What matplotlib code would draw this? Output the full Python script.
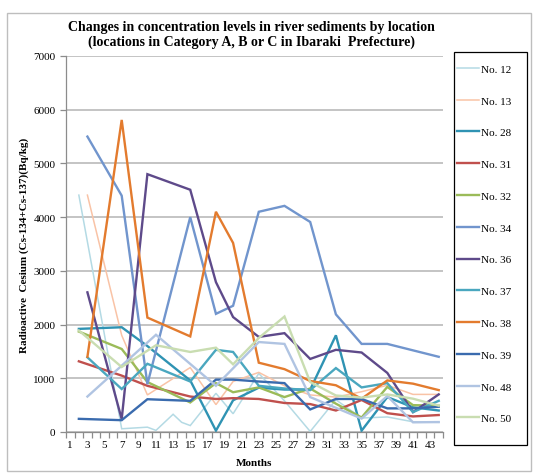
import matplotlib
matplotlib.use("Agg")
import matplotlib.pyplot as plt
from matplotlib.patches import Rectangle
from matplotlib.ticker import MultipleLocator, FixedLocator

plt.rcParams['font.family'] = ['Liberation Serif', 'DejaVu Serif']

# sampling months and activity (Bq/kg) for each location
m_a = [2, 7, 10, 15, 18, 20, 23, 26, 29, 32, 35, 38, 41, 44]
m_b = [3, 7, 10, 15, 18, 20, 23, 26, 29, 32, 35, 38, 41, 44]

m12 = [2, 7, 10, 11, 13, 14, 15, 18, 20, 23, 26, 29, 32, 35, 38, 41, 44]
v12 = [4410, 60, 90, 30, 330, 180, 120, 720, 340, 1090, 580, 10, 600, 260, 280, 190, 180]

m13 = m_b
v13 = [4410, 1800, 690, 1200, 510, 940, 1110, 860, 690, 650, 750, 870, 700, 700]

m28 = m_a
v28 = [1920, 1950, 1600, 960, 25, 590, 825, 790, 790, 1800, 25, 650, 460, 400]

m31 = m_a
v31 = [1316, 1050, 860, 660, 615, 630, 615, 540, 520, 400, 596, 350, 290, 316]

m32 = m_a
v32 = [1870, 1546, 930, 550, 910, 740, 830, 650, 810, 527, 270, 840, 500, 490]

m34 = m_b
v34 = [5500, 4400, 890, 4000, 2200, 2350, 4100, 4210, 3910, 2190, 1640, 1640, 1520, 1400]

m36 = m_b
v36 = [2600, 240, 4800, 4510, 2790, 2140, 1770, 1840, 1360, 1530, 1480, 1100, 370, 700]

m37 = m_b
v37 = [1390, 800, 1270, 940, 1530, 1490, 860, 810, 780, 1190, 830, 910, 370, 580]

m38 = m_b
v38 = [1400, 5810, 2130, 1780, 4100, 3520, 1290, 1170, 950, 870, 620, 960, 900, 780]

m39 = m_a
v39 = [245, 220, 610, 580, 975, 975, 940, 910, 420, 615, 615, 440, 440, 470]

m48 = [3, 11, 18, 23, 26, 29, 32, 35, 38, 41, 44]
v48 = [660, 1810, 860, 1675, 1640, 650, 450, 250, 670, 180, 185]

m50 = [2, 7, 11, 15, 18, 20, 23, 26, 29, 32, 35, 38, 41, 44]
v50 = [1890, 1210, 1615, 1490, 1570, 1260, 1750, 2150, 930, 680, 640, 700, 620, 490]

names = ['No. 12', 'No. 13', 'No. 28', 'No. 31', 'No. 32', 'No. 34',
         'No. 36', 'No. 37', 'No. 38', 'No. 39', 'No. 48', 'No. 50']
months = [m12, m13, m28, m31, m32, m34, m36, m37, m38, m39, m48, m50]
values = [v12, v13, v28, v31, v32, v34, v36, v37, v38, v39, v48, v50]
colors = ['#B4DAE4', '#F9C3A6', '#2F93B3', '#C0504D', '#9BBB59', '#7195CD',
          '#5E4A8A', '#4AA7BF', '#E37B2E', '#3A6BAE', '#B0C4E2', '#C9DDB1']
widths = [1.1, 1.1, 1.7, 1.7, 1.7, 1.7, 1.7, 1.7, 1.7, 1.7, 1.7, 1.7]

W, H = 533, 477
fig = plt.figure(figsize=(W / 100, H / 100), dpi=100)
fig.patches.append(Rectangle((7 / W, 1 - 472 / H), 524 / W, 458 / H,
                             transform=fig.transFigure, fill=False,
                             edgecolor='#BEBEBE', lw=1.0))

ax = fig.add_axes([66 / W, 1 - 433 / H, 377 / W, 376 / H])
lines = []
for mx, vy, c, lw, n in zip(months, values, colors, widths, names):
    ln, = ax.plot(mx, vy, color=c, lw=lw, label=n, solid_joinstyle='miter')
    lines.append(ln)

ax.set_xlim(0.5, 44.5)
ax.set_ylim(0, 7000)
ax.yaxis.set_major_locator(MultipleLocator(1000))
ax.grid(axis='y', color='#B4B4B4', lw=1.1)
ax.set_axisbelow(True)
for s in ['top', 'right']:
    ax.spines[s].set_visible(False)
for s in ['left', 'bottom']:
    ax.spines[s].set_color('#8C8C8C')
    ax.spines[s].set_linewidth(0.9)

ax.set_xticks(range(1, 45, 2))
ax.set_xticklabels([str(i) for i in range(1, 45, 2)])
ax.xaxis.set_minor_locator(FixedLocator([i + 0.5 for i in range(0, 45)]))
ax.tick_params(axis='x', which='major', length=0, labelsize=8, pad=6)
ax.tick_params(axis='x', which='minor', length=4, color='#8C8C8C', width=0.9)
ax.tick_params(axis='y', length=4, color='#8C8C8C', width=0.9, labelsize=8)

ax.set_xlabel('Months', fontsize=8, fontweight='bold', labelpad=6)
ax.set_ylabel('Radioactive  Cesium (Cs-134+Cs-137)(Bq/kg)', fontsize=8,
              fontweight='bold', labelpad=3)

fig.text(251 / W, 1 - 35 / H,
         'Changes in concentration levels in river sediments by location\n'
         '(locations in Category A, B or C in Ibaraki  Prefecture)',
         ha='center', va='center', fontsize=10, fontweight='bold',
         linespacing=1.2)

# legend box on the right
fig.patches.append(Rectangle((454 / W, 1 - 446 / H), 73 / W, 393 / H,
                             transform=fig.transFigure, fill=False,
                             edgecolor='black', lw=0.9))
fig.legend(handles=lines, loc='upper left',
           bbox_to_anchor=(457 / W, 1 - 65 / H), frameon=False,
           fontsize=8, labelspacing=1.98, handlelength=2.0,
           handletextpad=0.15, borderpad=0, borderaxespad=0)

fig.savefig('out.png', dpi=100)
